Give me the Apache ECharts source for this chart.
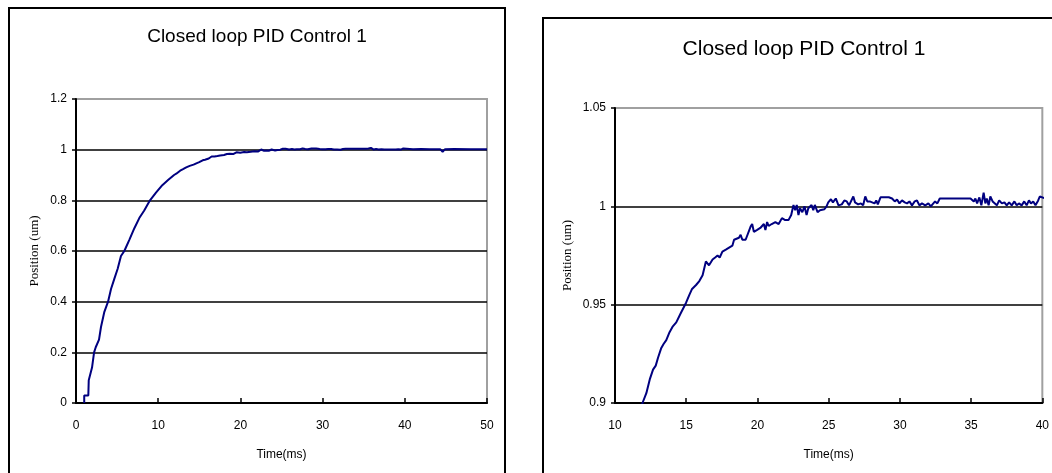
<!DOCTYPE html>
<html>
<head>
<meta charset="utf-8">
<script src="https://cdn.jsdelivr.net/npm/echarts@6/dist/echarts.min.js"></script>
<style>
html, body { margin: 0; padding: 0; background: #fff; }
#chart { width: 1052px; height: 473px; }
</style>
</head>
<body>
<div id="chart"></div>
<script>
// step response: [time (ms), position (um)]
var pidResponse = [
  [1.0, 0], [1.0, 0.03], [1.5, 0.03], [1.55, 0.09], [1.95, 0.14], [2.2, 0.2], [2.4, 0.22], [2.8, 0.25],
  [3.04, 0.30], [3.45, 0.36], [3.9, 0.40], [4.26, 0.45], [4.66, 0.49], [5.07, 0.53], [5.47, 0.58],
  [5.88, 0.60], [6.5, 0.645], [7.1, 0.69], [7.7, 0.73], [8.3, 0.76], [9.0, 0.80], [9.73, 0.83],
  [10.5, 0.86], [11.2, 0.88],
  [11.93, 0.900], [12.2, 0.905], [12.44, 0.912], [12.67, 0.917], [12.86, 0.919], [13.02, 0.923],
  [13.25, 0.928], [13.41, 0.930], [13.6, 0.932], [13.83, 0.936], [14.06, 0.939], [14.3, 0.941],
  [14.64, 0.946], [14.99, 0.951], [15.22, 0.955], [15.41, 0.958], [15.69, 0.960], [15.92, 0.962],
  [16.15, 0.965], [16.38, 0.972], [16.5, 0.973], [16.6, 0.970], [16.85, 0.973], [17.03, 0.974],
  [17.2, 0.975], [17.35, 0.974], [17.54, 0.977], [17.78, 0.978], [18.01, 0.979], [18.24, 0.980],
  [18.36, 0.983], [18.47, 0.982], [18.7, 0.984], [18.82, 0.9855], [18.94, 0.983], [19.17, 0.983],
  [19.52, 0.9897], [19.63, 0.991], [19.75, 0.987], [19.98, 0.988], [20.2, 0.989], [20.45, 0.991],
  [20.56, 0.988], [20.68, 0.992], [20.79, 0.990], [21.0, 0.991], [21.26, 0.992], [21.49, 0.991],
  [21.72, 0.994], [21.95, 0.993], [22.18, 0.993], [22.37, 0.9956], [22.53, 1.0007], [22.65, 0.998],
  [22.76, 1.0007], [22.88, 0.9956], [22.99, 0.999], [23.15, 0.997], [23.3, 1.000], [23.45, 0.9956],
  [23.57, 0.999], [23.8, 1.0007], [23.92, 0.998], [24.03, 1.0007], [24.22, 0.997], [24.39, 0.998],
  [24.5, 0.999], [24.7, 0.9985], [24.85, 1.000], [24.97, 1.002], [25.16, 1.0036], [25.3, 1.002],
  [25.5, 1.004], [25.69, 1.0005], [25.92, 1.001], [26.1, 1.003], [26.27, 1.0025], [26.43, 1.0005],
  [26.57, 1.001], [26.73, 1.005], [26.85, 1.002], [26.96, 1.003], [27.07, 1.001], [27.26, 1.0015],
  [27.42, 1.0005], [27.57, 1.005], [27.71, 1.0025], [27.88, 1.0025], [27.99, 1.0015], [28.22, 1.0015],
  [28.34, 1.003], [28.45, 1.001], [28.64, 1.0046], [28.76, 1.005], [29.22, 1.0046], [29.45, 1.004],
  [29.64, 1.0025], [29.8, 1.0035], [29.97, 1.0015], [30.15, 1.003], [30.34, 1.002], [30.5, 1.0015],
  [30.67, 1.0025], [30.85, 1.0005], [31.04, 1.0025], [31.2, 1.003], [31.37, 1.0005], [31.55, 1.0015],
  [31.78, 1.0005], [32.0, 1.0015], [32.17, 1.000], [32.28, 1.000], [32.47, 1.0025], [32.63, 1.0015],
  [32.8, 1.004], [34.96, 1.004], [35.07, 1.005], [35.19, 1.0025], [35.3, 1.004], [35.42, 1.0015],
  [35.58, 1.0045], [35.72, 1.0005], [35.88, 1.007], [36.0, 1.0015], [36.1, 1.004], [36.23, 1.0005],
  [36.35, 1.005], [36.51, 1.0025], [36.65, 1.0035], [36.81, 1.0005], [36.97, 1.003], [37.16, 1.0015],
  [37.34, 1.002], [37.5, 1.0005], [37.67, 1.002], [37.85, 1.0005], [38.04, 1.0025], [38.2, 1.0005],
  [38.36, 1.0015], [38.55, 1.0005], [38.73, 1.0025], [38.9, 1.0005], [39.06, 1.003], [39.2, 1.0015],
  [39.36, 1.0025], [39.52, 1.0005], [39.71, 1.003], [39.82, 1.005], [39.94, 1.004],
  [41, 1.002], [42, 1.003], [43, 1.002], [44.3, 1.002], [44.6, 0.992], [44.9, 1.002], [46, 1.003],
  [48, 1.002], [50, 1.002]
];

var chartTitle = 'Closed loop PID Control 1';
var xName = 'Time(ms)';
var yName = 'Position (um)';

// axis ranges: [min, max, interval]
var fullX = [0, 50, 10];
var fullY = [0, 1.2, 0.2];
var zoomX = [10, 40, 5];
var zoomY = [0.9, 1.05, 0.05];

var sansFont = '"Liberation Sans", Arial, sans-serif';
var serifFont = '"Liberation Serif", "Times New Roman", serif';

function xAxisOf(gridIndex, range) {
  return {
    type: 'value', gridIndex: gridIndex,
    min: range[0], max: range[1], interval: range[2],
    name: xName, nameLocation: 'middle', nameGap: 46,
    nameTextStyle: { color: '#000', fontSize: 12, fontFamily: sansFont },
    axisLine: { show: true, onZero: false, lineStyle: { color: '#000', width: 2 } },
    axisTick: { show: true, inside: true, length: 5, lineStyle: { color: '#000', width: 1.5 } },
    axisLabel: { color: '#000', fontSize: 12, fontFamily: sansFont, margin: 17 },
    splitLine: { show: false }
  };
}

function yAxisOf(gridIndex, range, nameGap) {
  return {
    type: 'value', gridIndex: gridIndex,
    min: range[0], max: range[1], interval: range[2],
    name: yName, nameLocation: 'middle', nameGap: nameGap,
    nameTextStyle: { color: '#000', fontSize: 13, fontFamily: serifFont },
    axisLine: { show: true, onZero: false, lineStyle: { color: '#000', width: 2 } },
    axisTick: { show: true, inside: false, length: 4, lineStyle: { color: '#000', width: 1.5 } },
    axisLabel: { color: '#000', fontSize: 12, fontFamily: sansFont, margin: 9 },
    splitLine: { show: true, showMinLine: false, showMaxLine: false, lineStyle: { color: '#000', width: 1.5 } }
  };
}

var chart = echarts.init(document.getElementById('chart'), null, { renderer: 'canvas' });

chart.setOption({
  backgroundColor: '#fff',
  animation: false,
  graphic: [
    { type: 'rect', shape: { x: 9, y: 8, width: 496, height: 480 }, style: { fill: 'none', stroke: '#000', lineWidth: 2 }, z: 0 },
    { type: 'rect', shape: { x: 543, y: 18, width: 530, height: 480 }, style: { fill: 'none', stroke: '#000', lineWidth: 2 }, z: 0 },
    { type: 'text', x: 257, y: 37, style: { text: chartTitle, align: 'center', verticalAlign: 'middle', font: '19px ' + sansFont, fill: '#000' } },
    { type: 'text', x: 804, y: 49, style: { text: chartTitle, align: 'center', verticalAlign: 'middle', font: '21px ' + sansFont, fill: '#000' } }
  ],
  grid: [
    { left: 76, top: 99, width: 411, height: 304, show: true, borderColor: '#a0a0a0', borderWidth: 2, backgroundColor: 'transparent' },
    { left: 615, top: 108, width: 431, height: 295, show: true, borderColor: '#a0a0a0', borderWidth: 2, backgroundColor: 'transparent' }
  ],
  xAxis: [xAxisOf(0, fullX), xAxisOf(1, zoomX)],
  yAxis: [yAxisOf(0, fullY, 35), yAxisOf(1, zoomY, 41)],
  series: [
    {
      type: 'line', xAxisIndex: 0, yAxisIndex: 0, data: pidResponse,
      showSymbol: false, clip: true, z: 5,
      lineStyle: { color: '#000080', width: 2 }
    },
    {
      type: 'line', xAxisIndex: 1, yAxisIndex: 1, data: pidResponse,
      showSymbol: false, clip: true, z: 5,
      lineStyle: { color: '#000080', width: 2 }
    }
  ]
});
</script>
</body>
</html>
